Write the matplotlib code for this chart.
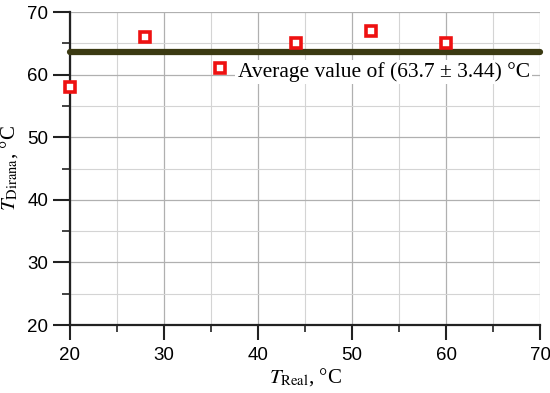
import matplotlib
matplotlib.use("Agg")
from matplotlib import pyplot as plt
from matplotlib.ticker import MultipleLocator

t_real = [20, 28, 36, 44, 52, 60]
t_dirana = [58, 66, 61, 65, 67, 65]
avg_value = 63.7
avg_label = "Average value of (63.7 \u00b1 3.44) \u00b0C"

plt.rcParams["mathtext.fontset"] = "stix"

fig = plt.figure(figsize=(5.5, 3.93), dpi=100)
ax = fig.add_axes([0.127, 0.173, 0.855, 0.796])

ax.set_xlim(20, 70)
ax.set_ylim(20, 70)
ax.xaxis.set_major_locator(MultipleLocator(10))
ax.xaxis.set_minor_locator(MultipleLocator(5))
ax.yaxis.set_major_locator(MultipleLocator(10))
ax.yaxis.set_minor_locator(MultipleLocator(5))

ax.grid(which="major", color="#b0b0b0", lw=0.9)
ax.grid(which="minor", color="#d4d4d4", lw=0.8)
ax.set_axisbelow(True)

ax.plot([20, 70], [avg_value, avg_value], color="#3b3a12", lw=4.5,
        solid_capstyle="round", zorder=3, clip_on=False)
ax.plot(t_real, t_dirana, ls="none", marker="s", ms=7.5,
        mfc="white", mec="#ee1111", mew=2.6, zorder=4, clip_on=False)

# label for the average line
ax.text(68.9, 60.4, avg_label, ha="right", va="center",
        family="Liberation Serif", fontsize=15.5, zorder=2,
        bbox=dict(facecolor="white", edgecolor="none", pad=1.5))

for s in ["top", "right"]:
    ax.spines[s].set_visible(False)
for s in ["left", "bottom"]:
    ax.spines[s].set_linewidth(1.6)
    ax.spines[s].set_color("#222222")

ax.tick_params(axis="y", which="major", direction="out", length=12,
               width=1.5, labelsize=13.5, color="#222222")
ax.tick_params(axis="y", which="minor", direction="out", length=6,
               width=1.2, color="#222222")
ax.tick_params(axis="x", which="major", direction="out", length=11,
               width=1.5, labelsize=13.5, color="#222222", pad=5)
ax.tick_params(axis="x", which="minor", direction="out", length=5,
               width=1.2, color="#222222")
for lab in ax.get_xticklabels() + ax.get_yticklabels():
    lab.set_family("Liberation Sans")

deg = "\u00b0"
ax.set_xlabel(r"$T_{\rm Real}$, " + deg + "C",
              fontsize=15, family="Liberation Serif", labelpad=1)
ax.set_ylabel(r"$T_{\rm Dirana}$, " + deg + "C",
              fontsize=15, family="Liberation Serif", labelpad=5)

plt.savefig("out.png", dpi=100)
plt.close()
